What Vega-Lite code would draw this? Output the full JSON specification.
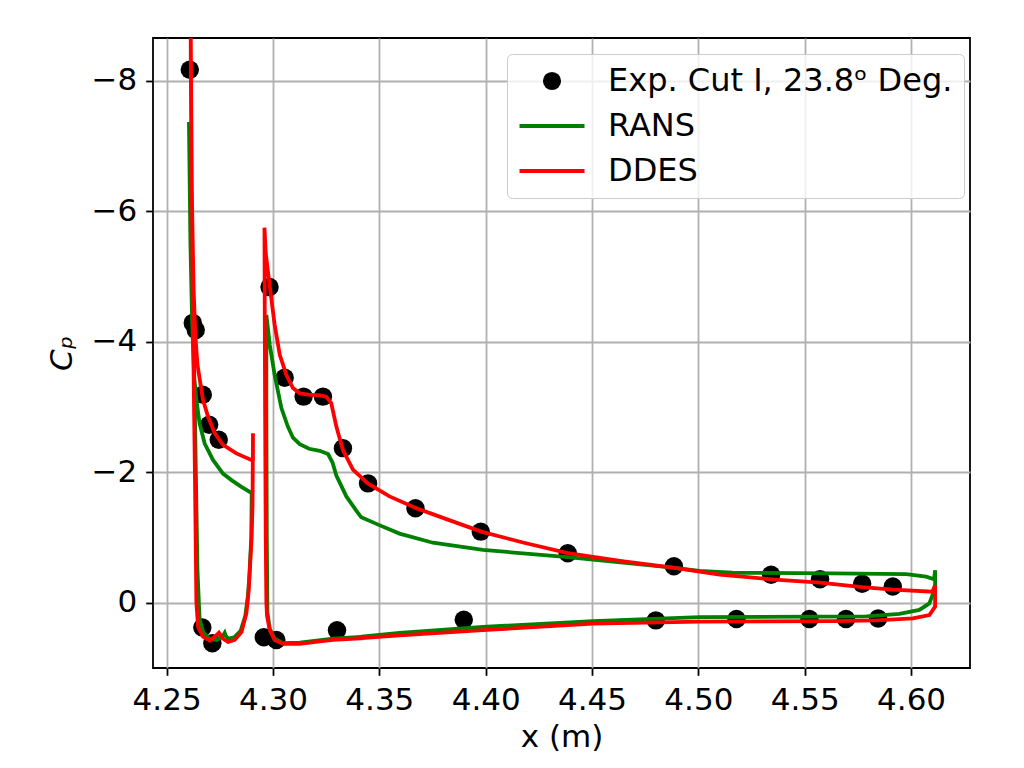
{
  "$schema": "https://vega.github.io/schema/vega-lite/v6.json",
  "width": 817,
  "height": 630,
  "autosize": {"type": "none"},
  "padding": {"left": 153, "top": 38, "right": 54, "bottom": 100},
  "background": "white",
  "config": {
    "font": "DejaVu Sans",
    "view": {"stroke": "black", "strokeWidth": 1.8},
    "axis": {
      "grid": true,
      "gridColor": "#b0b0b0",
      "gridWidth": 1.8,
      "domain": false,
      "tickColor": "black",
      "tickWidth": 1.8,
      "tickSize": 7.3,
      "labelFontSize": 31,
      "labelColor": "black",
      "labelFlush": false,
      "titleFontSize": 31,
      "titleFontWeight": "normal",
      "titleColor": "black"
    }
  },
  "datasets": {
    "exp": [
      {"s": "Exp. Cut I, 23.8ᵒ Deg.", "x": 4.2609, "cp": -8.17},
      {"s": "Exp. Cut I, 23.8ᵒ Deg.", "x": 4.2623, "cp": -4.29},
      {"s": "Exp. Cut I, 23.8ᵒ Deg.", "x": 4.2637, "cp": -4.18},
      {"s": "Exp. Cut I, 23.8ᵒ Deg.", "x": 4.2670, "cp": -3.19},
      {"s": "Exp. Cut I, 23.8ᵒ Deg.", "x": 4.2700, "cp": -2.73},
      {"s": "Exp. Cut I, 23.8ᵒ Deg.", "x": 4.2745, "cp": -2.50},
      {"s": "Exp. Cut I, 23.8ᵒ Deg.", "x": 4.2668, "cp": 0.38},
      {"s": "Exp. Cut I, 23.8ᵒ Deg.", "x": 4.2715, "cp": 0.62},
      {"s": "Exp. Cut I, 23.8ᵒ Deg.", "x": 4.2957, "cp": 0.53},
      {"s": "Exp. Cut I, 23.8ᵒ Deg.", "x": 4.3016, "cp": 0.57},
      {"s": "Exp. Cut I, 23.8ᵒ Deg.", "x": 4.2984, "cp": -4.84},
      {"s": "Exp. Cut I, 23.8ᵒ Deg.", "x": 4.3055, "cp": -3.45},
      {"s": "Exp. Cut I, 23.8ᵒ Deg.", "x": 4.3144, "cp": -3.16},
      {"s": "Exp. Cut I, 23.8ᵒ Deg.", "x": 4.3235, "cp": -3.16},
      {"s": "Exp. Cut I, 23.8ᵒ Deg.", "x": 4.3329, "cp": -2.37},
      {"s": "Exp. Cut I, 23.8ᵒ Deg.", "x": 4.3447, "cp": -1.83},
      {"s": "Exp. Cut I, 23.8ᵒ Deg.", "x": 4.3670, "cp": -1.45},
      {"s": "Exp. Cut I, 23.8ᵒ Deg.", "x": 4.3977, "cp": -1.09},
      {"s": "Exp. Cut I, 23.8ᵒ Deg.", "x": 4.4386, "cp": -0.76},
      {"s": "Exp. Cut I, 23.8ᵒ Deg.", "x": 4.4885, "cp": -0.56},
      {"s": "Exp. Cut I, 23.8ᵒ Deg.", "x": 4.5342, "cp": -0.43},
      {"s": "Exp. Cut I, 23.8ᵒ Deg.", "x": 4.5572, "cp": -0.36},
      {"s": "Exp. Cut I, 23.8ᵒ Deg.", "x": 4.5770, "cp": -0.29},
      {"s": "Exp. Cut I, 23.8ᵒ Deg.", "x": 4.5914, "cp": -0.25},
      {"s": "Exp. Cut I, 23.8ᵒ Deg.", "x": 4.3301, "cp": 0.42},
      {"s": "Exp. Cut I, 23.8ᵒ Deg.", "x": 4.3897, "cp": 0.26},
      {"s": "Exp. Cut I, 23.8ᵒ Deg.", "x": 4.4800, "cp": 0.27},
      {"s": "Exp. Cut I, 23.8ᵒ Deg.", "x": 4.5179, "cp": 0.25},
      {"s": "Exp. Cut I, 23.8ᵒ Deg.", "x": 4.5522, "cp": 0.25},
      {"s": "Exp. Cut I, 23.8ᵒ Deg.", "x": 4.5694, "cp": 0.25},
      {"s": "Exp. Cut I, 23.8ᵒ Deg.", "x": 4.5845, "cp": 0.24}
    ],
    "rans": [
      {"s": "RANS", "p": "a", "i": 1, "x": 4.2605, "cp": -7.37},
      {"s": "RANS", "p": "a", "i": 2, "x": 4.2612, "cp": -5.5},
      {"s": "RANS", "p": "a", "i": 3, "x": 4.2620, "cp": -4.3},
      {"s": "RANS", "p": "a", "i": 4, "x": 4.2630, "cp": -3.45},
      {"s": "RANS", "p": "a", "i": 5, "x": 4.2640, "cp": -3.11},
      {"s": "RANS", "p": "a", "i": 6, "x": 4.2655, "cp": -2.75},
      {"s": "RANS", "p": "a", "i": 7, "x": 4.2679, "cp": -2.44},
      {"s": "RANS", "p": "a", "i": 8, "x": 4.2718, "cp": -2.19},
      {"s": "RANS", "p": "a", "i": 9, "x": 4.2765, "cp": -1.98},
      {"s": "RANS", "p": "a", "i": 10, "x": 4.2805, "cp": -1.88},
      {"s": "RANS", "p": "a", "i": 11, "x": 4.2850, "cp": -1.78},
      {"s": "RANS", "p": "a", "i": 12, "x": 4.2900, "cp": -1.68},
      {"s": "RANS", "p": "a", "i": 13, "x": 4.2898, "cp": -1.0},
      {"s": "RANS", "p": "a", "i": 14, "x": 4.2889, "cp": -0.40},
      {"s": "RANS", "p": "a", "i": 15, "x": 4.2882, "cp": -0.10},
      {"s": "RANS", "p": "a", "i": 16, "x": 4.2870, "cp": 0.20},
      {"s": "RANS", "p": "a", "i": 17, "x": 4.2848, "cp": 0.43},
      {"s": "RANS", "p": "a", "i": 18, "x": 4.2818, "cp": 0.53},
      {"s": "RANS", "p": "a", "i": 19, "x": 4.2790, "cp": 0.55},
      {"s": "RANS", "p": "a", "i": 20, "x": 4.2777, "cp": 0.50},
      {"s": "RANS", "p": "a", "i": 21, "x": 4.2773, "cp": 0.46},
      {"s": "RANS", "p": "a", "i": 22, "x": 4.2762, "cp": 0.52},
      {"s": "RANS", "p": "a", "i": 23, "x": 4.2735, "cp": 0.57},
      {"s": "RANS", "p": "a", "i": 24, "x": 4.2700, "cp": 0.55},
      {"s": "RANS", "p": "a", "i": 25, "x": 4.2672, "cp": 0.45},
      {"s": "RANS", "p": "a", "i": 26, "x": 4.2655, "cp": 0.25},
      {"s": "RANS", "p": "a", "i": 27, "x": 4.2645, "cp": -0.5},
      {"s": "RANS", "p": "a", "i": 28, "x": 4.2635, "cp": -2.5},
      {"s": "RANS", "p": "a", "i": 29, "x": 4.2625, "cp": -4.5},
      {"s": "RANS", "p": "a", "i": 30, "x": 4.2612, "cp": -6.5},
      {"s": "RANS", "p": "a", "i": 31, "x": 4.2605, "cp": -7.37},
      {"s": "RANS", "p": "b", "i": 1, "x": 4.3432, "cp": 0.52},
      {"s": "RANS", "p": "b", "i": 2, "x": 4.3282, "cp": 0.55},
      {"s": "RANS", "p": "b", "i": 3, "x": 4.3126, "cp": 0.61},
      {"s": "RANS", "p": "b", "i": 4, "x": 4.3047, "cp": 0.62},
      {"s": "RANS", "p": "b", "i": 5, "x": 4.3008, "cp": 0.55},
      {"s": "RANS", "p": "b", "i": 6, "x": 4.2985, "cp": 0.40},
      {"s": "RANS", "p": "b", "i": 7, "x": 4.2974, "cp": 0.15},
      {"s": "RANS", "p": "b", "i": 8, "x": 4.2971, "cp": -1.0},
      {"s": "RANS", "p": "b", "i": 9, "x": 4.2969, "cp": -3.0},
      {"s": "RANS", "p": "b", "i": 10, "x": 4.2969, "cp": -4.41},
      {"s": "RANS", "p": "b", "i": 11, "x": 4.2985, "cp": -3.95},
      {"s": "RANS", "p": "b", "i": 12, "x": 4.3008, "cp": -3.49},
      {"s": "RANS", "p": "b", "i": 13, "x": 4.3040, "cp": -2.98},
      {"s": "RANS", "p": "b", "i": 14, "x": 4.3070, "cp": -2.70},
      {"s": "RANS", "p": "b", "i": 15, "x": 4.3094, "cp": -2.53},
      {"s": "RANS", "p": "b", "i": 16, "x": 4.3126, "cp": -2.43},
      {"s": "RANS", "p": "b", "i": 17, "x": 4.3170, "cp": -2.36},
      {"s": "RANS", "p": "b", "i": 18, "x": 4.3220, "cp": -2.33},
      {"s": "RANS", "p": "b", "i": 19, "x": 4.3259, "cp": -2.28},
      {"s": "RANS", "p": "b", "i": 20, "x": 4.3280, "cp": -2.15},
      {"s": "RANS", "p": "b", "i": 21, "x": 4.3298, "cp": -1.95},
      {"s": "RANS", "p": "b", "i": 22, "x": 4.3345, "cp": -1.63},
      {"s": "RANS", "p": "b", "i": 23, "x": 4.3390, "cp": -1.42},
      {"s": "RANS", "p": "b", "i": 24, "x": 4.3415, "cp": -1.31},
      {"s": "RANS", "p": "b", "i": 25, "x": 4.3500, "cp": -1.19},
      {"s": "RANS", "p": "b", "i": 26, "x": 4.3595, "cp": -1.06},
      {"s": "RANS", "p": "b", "i": 27, "x": 4.3752, "cp": -0.92},
      {"s": "RANS", "p": "b", "i": 28, "x": 4.3987, "cp": -0.81},
      {"s": "RANS", "p": "b", "i": 29, "x": 4.4386, "cp": -0.70},
      {"s": "RANS", "p": "b", "i": 30, "x": 4.4880, "cp": -0.54},
      {"s": "RANS", "p": "b", "i": 31, "x": 4.5005, "cp": -0.49},
      {"s": "RANS", "p": "b", "i": 32, "x": 4.5160, "cp": -0.46},
      {"s": "RANS", "p": "b", "i": 33, "x": 4.5632, "cp": -0.45},
      {"s": "RANS", "p": "b", "i": 34, "x": 4.5977, "cp": -0.44},
      {"s": "RANS", "p": "b", "i": 35, "x": 4.6071, "cp": -0.40},
      {"s": "RANS", "p": "b", "i": 36, "x": 4.6108, "cp": -0.36},
      {"s": "RANS", "p": "b", "i": 37, "x": 4.6113, "cp": -0.50},
      {"s": "RANS", "p": "b", "i": 38, "x": 4.6113, "cp": -0.27},
      {"s": "RANS", "p": "b", "i": 39, "x": 4.6109, "cp": -0.19},
      {"s": "RANS", "p": "b", "i": 40, "x": 4.6086, "cp": 0.01},
      {"s": "RANS", "p": "b", "i": 41, "x": 4.6039, "cp": 0.11},
      {"s": "RANS", "p": "b", "i": 42, "x": 4.5945, "cp": 0.17},
      {"s": "RANS", "p": "b", "i": 43, "x": 4.5789, "cp": 0.21},
      {"s": "RANS", "p": "b", "i": 44, "x": 4.5005, "cp": 0.22},
      {"s": "RANS", "p": "b", "i": 45, "x": 4.4504, "cp": 0.28},
      {"s": "RANS", "p": "b", "i": 46, "x": 4.3987, "cp": 0.37},
      {"s": "RANS", "p": "b", "i": 47, "x": 4.3595, "cp": 0.46},
      {"s": "RANS", "p": "b", "i": 48, "x": 4.3416, "cp": 0.52}
    ],
    "ddes": [
      {"s": "DDES", "p": "a", "i": 1, "x": 4.2612, "cp": -9.5},
      {"s": "DDES", "p": "a", "i": 2, "x": 4.2615, "cp": -7.5},
      {"s": "DDES", "p": "a", "i": 3, "x": 4.2620, "cp": -6.0},
      {"s": "DDES", "p": "a", "i": 4, "x": 4.2627, "cp": -4.8},
      {"s": "DDES", "p": "a", "i": 5, "x": 4.2635, "cp": -4.1},
      {"s": "DDES", "p": "a", "i": 6, "x": 4.2645, "cp": -3.65},
      {"s": "DDES", "p": "a", "i": 7, "x": 4.2656, "cp": -3.42},
      {"s": "DDES", "p": "a", "i": 8, "x": 4.2671, "cp": -3.11},
      {"s": "DDES", "p": "a", "i": 9, "x": 4.2695, "cp": -2.85},
      {"s": "DDES", "p": "a", "i": 10, "x": 4.2726, "cp": -2.60},
      {"s": "DDES", "p": "a", "i": 11, "x": 4.2765, "cp": -2.42},
      {"s": "DDES", "p": "a", "i": 12, "x": 4.2828, "cp": -2.29},
      {"s": "DDES", "p": "a", "i": 13, "x": 4.2898, "cp": -2.19},
      {"s": "DDES", "p": "a", "i": 14, "x": 4.2906, "cp": -2.20},
      {"s": "DDES", "p": "a", "i": 15, "x": 4.2906, "cp": -2.60},
      {"s": "DDES", "p": "a", "i": 16, "x": 4.2904, "cp": -1.5},
      {"s": "DDES", "p": "a", "i": 17, "x": 4.2899, "cp": -0.96},
      {"s": "DDES", "p": "a", "i": 18, "x": 4.2891, "cp": -0.50},
      {"s": "DDES", "p": "a", "i": 19, "x": 4.2886, "cp": -0.19},
      {"s": "DDES", "p": "a", "i": 20, "x": 4.2875, "cp": 0.16},
      {"s": "DDES", "p": "a", "i": 21, "x": 4.2852, "cp": 0.45},
      {"s": "DDES", "p": "a", "i": 22, "x": 4.2820, "cp": 0.57},
      {"s": "DDES", "p": "a", "i": 23, "x": 4.2789, "cp": 0.60},
      {"s": "DDES", "p": "a", "i": 24, "x": 4.2765, "cp": 0.55},
      {"s": "DDES", "p": "a", "i": 25, "x": 4.2746, "cp": 0.46},
      {"s": "DDES", "p": "a", "i": 26, "x": 4.2730, "cp": 0.51},
      {"s": "DDES", "p": "a", "i": 27, "x": 4.2703, "cp": 0.58},
      {"s": "DDES", "p": "a", "i": 28, "x": 4.2671, "cp": 0.52},
      {"s": "DDES", "p": "a", "i": 29, "x": 4.2648, "cp": 0.37},
      {"s": "DDES", "p": "a", "i": 30, "x": 4.2640, "cp": 0.0},
      {"s": "DDES", "p": "a", "i": 31, "x": 4.2633, "cp": -2.0},
      {"s": "DDES", "p": "a", "i": 32, "x": 4.2627, "cp": -3.5},
      {"s": "DDES", "p": "a", "i": 33, "x": 4.2622, "cp": -5.0},
      {"s": "DDES", "p": "a", "i": 34, "x": 4.2616, "cp": -7.5},
      {"s": "DDES", "p": "a", "i": 35, "x": 4.2612, "cp": -9.5},
      {"s": "DDES", "p": "b", "i": 1, "x": 4.3432, "cp": 0.54},
      {"s": "DDES", "p": "b", "i": 2, "x": 4.3282, "cp": 0.57},
      {"s": "DDES", "p": "b", "i": 3, "x": 4.3200, "cp": 0.60},
      {"s": "DDES", "p": "b", "i": 4, "x": 4.3126, "cp": 0.63},
      {"s": "DDES", "p": "b", "i": 5, "x": 4.3047, "cp": 0.63},
      {"s": "DDES", "p": "b", "i": 6, "x": 4.3008, "cp": 0.57},
      {"s": "DDES", "p": "b", "i": 7, "x": 4.2985, "cp": 0.42},
      {"s": "DDES", "p": "b", "i": 8, "x": 4.2972, "cp": 0.20},
      {"s": "DDES", "p": "b", "i": 9, "x": 4.2969, "cp": 0.0},
      {"s": "DDES", "p": "b", "i": 10, "x": 4.2966, "cp": -1.0},
      {"s": "DDES", "p": "b", "i": 11, "x": 4.2963, "cp": -3.0},
      {"s": "DDES", "p": "b", "i": 12, "x": 4.2960, "cp": -5.75},
      {"s": "DDES", "p": "b", "i": 13, "x": 4.2966, "cp": -5.36},
      {"s": "DDES", "p": "b", "i": 14, "x": 4.2985, "cp": -4.85},
      {"s": "DDES", "p": "b", "i": 15, "x": 4.3008, "cp": -4.26},
      {"s": "DDES", "p": "b", "i": 16, "x": 4.3032, "cp": -3.80},
      {"s": "DDES", "p": "b", "i": 17, "x": 4.3063, "cp": -3.49},
      {"s": "DDES", "p": "b", "i": 18, "x": 4.3094, "cp": -3.29},
      {"s": "DDES", "p": "b", "i": 19, "x": 4.3126, "cp": -3.21},
      {"s": "DDES", "p": "b", "i": 20, "x": 4.3165, "cp": -3.19},
      {"s": "DDES", "p": "b", "i": 21, "x": 4.3220, "cp": -3.18},
      {"s": "DDES", "p": "b", "i": 22, "x": 4.3250, "cp": -3.16},
      {"s": "DDES", "p": "b", "i": 23, "x": 4.3274, "cp": -3.06},
      {"s": "DDES", "p": "b", "i": 24, "x": 4.3298, "cp": -2.70},
      {"s": "DDES", "p": "b", "i": 25, "x": 4.3329, "cp": -2.34},
      {"s": "DDES", "p": "b", "i": 26, "x": 4.3376, "cp": -2.04},
      {"s": "DDES", "p": "b", "i": 27, "x": 4.3446, "cp": -1.83},
      {"s": "DDES", "p": "b", "i": 28, "x": 4.3548, "cp": -1.63},
      {"s": "DDES", "p": "b", "i": 29, "x": 4.3674, "cp": -1.45},
      {"s": "DDES", "p": "b", "i": 30, "x": 4.3783, "cp": -1.32},
      {"s": "DDES", "p": "b", "i": 31, "x": 4.3979, "cp": -1.09},
      {"s": "DDES", "p": "b", "i": 32, "x": 4.4180, "cp": -0.92},
      {"s": "DDES", "p": "b", "i": 33, "x": 4.4386, "cp": -0.76},
      {"s": "DDES", "p": "b", "i": 34, "x": 4.4640, "cp": -0.64},
      {"s": "DDES", "p": "b", "i": 35, "x": 4.4880, "cp": -0.54},
      {"s": "DDES", "p": "b", "i": 36, "x": 4.5100, "cp": -0.43},
      {"s": "DDES", "p": "b", "i": 37, "x": 4.5342, "cp": -0.36},
      {"s": "DDES", "p": "b", "i": 38, "x": 4.5572, "cp": -0.31},
      {"s": "DDES", "p": "b", "i": 39, "x": 4.5770, "cp": -0.24},
      {"s": "DDES", "p": "b", "i": 40, "x": 4.5914, "cp": -0.20},
      {"s": "DDES", "p": "b", "i": 41, "x": 4.6100, "cp": -0.17},
      {"s": "DDES", "p": "b", "i": 42, "x": 4.6113, "cp": -0.27},
      {"s": "DDES", "p": "b", "i": 43, "x": 4.6113, "cp": 0.06},
      {"s": "DDES", "p": "b", "i": 44, "x": 4.6086, "cp": 0.19},
      {"s": "DDES", "p": "b", "i": 45, "x": 4.6008, "cp": 0.24},
      {"s": "DDES", "p": "b", "i": 46, "x": 4.5836, "cp": 0.27},
      {"s": "DDES", "p": "b", "i": 47, "x": 4.5632, "cp": 0.28},
      {"s": "DDES", "p": "b", "i": 48, "x": 4.5005, "cp": 0.29},
      {"s": "DDES", "p": "b", "i": 49, "x": 4.4504, "cp": 0.32},
      {"s": "DDES", "p": "b", "i": 50, "x": 4.3987, "cp": 0.42},
      {"s": "DDES", "p": "b", "i": 51, "x": 4.3595, "cp": 0.50},
      {"s": "DDES", "p": "b", "i": 52, "x": 4.3416, "cp": 0.54}
    ]
  },
  "encoding": {
    "x": {
      "field": "x",
      "type": "quantitative",
      "scale": {"domain": [4.2436, 4.6277], "nice": false, "zero": false},
      "axis": {
        "title": "x (m)",
        "values": [4.25, 4.3, 4.35, 4.4, 4.45, 4.5, 4.55, 4.6],
        "format": ".2f",
        "labelPadding": 10,
        "titlePadding": 7
      }
    },
    "y": {
      "field": "cp",
      "type": "quantitative",
      "scale": {"domain": [-8.657, 1.0], "reverse": true, "nice": false, "zero": false},
      "axis": {
        "title": "Cₚ",
        "titleFontStyle": "italic",
        "values": [-8, -6, -4, -2, 0],
        "labelPadding": 9,
        "titlePadding": 13
      }
    },
    "color": {
      "field": "s",
      "type": "nominal",
      "scale": {
        "domain": ["Exp. Cut I, 23.8ᵒ Deg.", "RANS", "DDES"],
        "range": ["black", "#008000", "#ff0000"]
      },
      "legend": {
        "title": null,
        "orient": "none",
        "legendX": 354,
        "legendY": 16,
        "labelFontSize": 32,
        "labelColor": "black",
        "labelLimit": 0,
        "labelOffset": 40,
        "symbolOffset": 18,
        "padding": 11,
        "rowPadding": 13,
        "fillColor": "rgba(255,255,255,0.8)",
        "strokeColor": "#cccccc",
        "cornerRadius": 5,
        "encode": {
          "symbols": {
            "update": {
              "shape": {"signal": "datum.value === 'RANS' || datum.value === 'DDES' ? 'stroke' : 'circle'"},
              "size": {"signal": "datum.value === 'RANS' || datum.value === 'DDES' ? 4225 : 330"},
              "fill": {"signal": "datum.value === 'RANS' || datum.value === 'DDES' ? 'transparent' : 'black'"},
              "stroke": {"signal": "datum.value === 'RANS' ? '#008000' : datum.value === 'DDES' ? '#ff0000' : 'black'"},
              "strokeWidth": {"signal": "datum.value === 'RANS' || datum.value === 'DDES' ? 3.8 : 0"},
              "opacity": {"value": 1}
            }
          }
        }
      }
    }
  },
  "layer": [
    {
      "data": {"name": "exp"},
      "mark": {"type": "circle", "size": 340, "opacity": 1}
    },
    {
      "data": {"name": "rans"},
      "mark": {"type": "line", "strokeWidth": 3.8, "clip": true},
      "encoding": {"order": {"field": "i", "type": "quantitative"}, "detail": {"field": "p"}}
    },
    {
      "data": {"name": "ddes"},
      "mark": {"type": "line", "strokeWidth": 3.8, "clip": true},
      "encoding": {"order": {"field": "i", "type": "quantitative"}, "detail": {"field": "p"}}
    }
  ]
}
